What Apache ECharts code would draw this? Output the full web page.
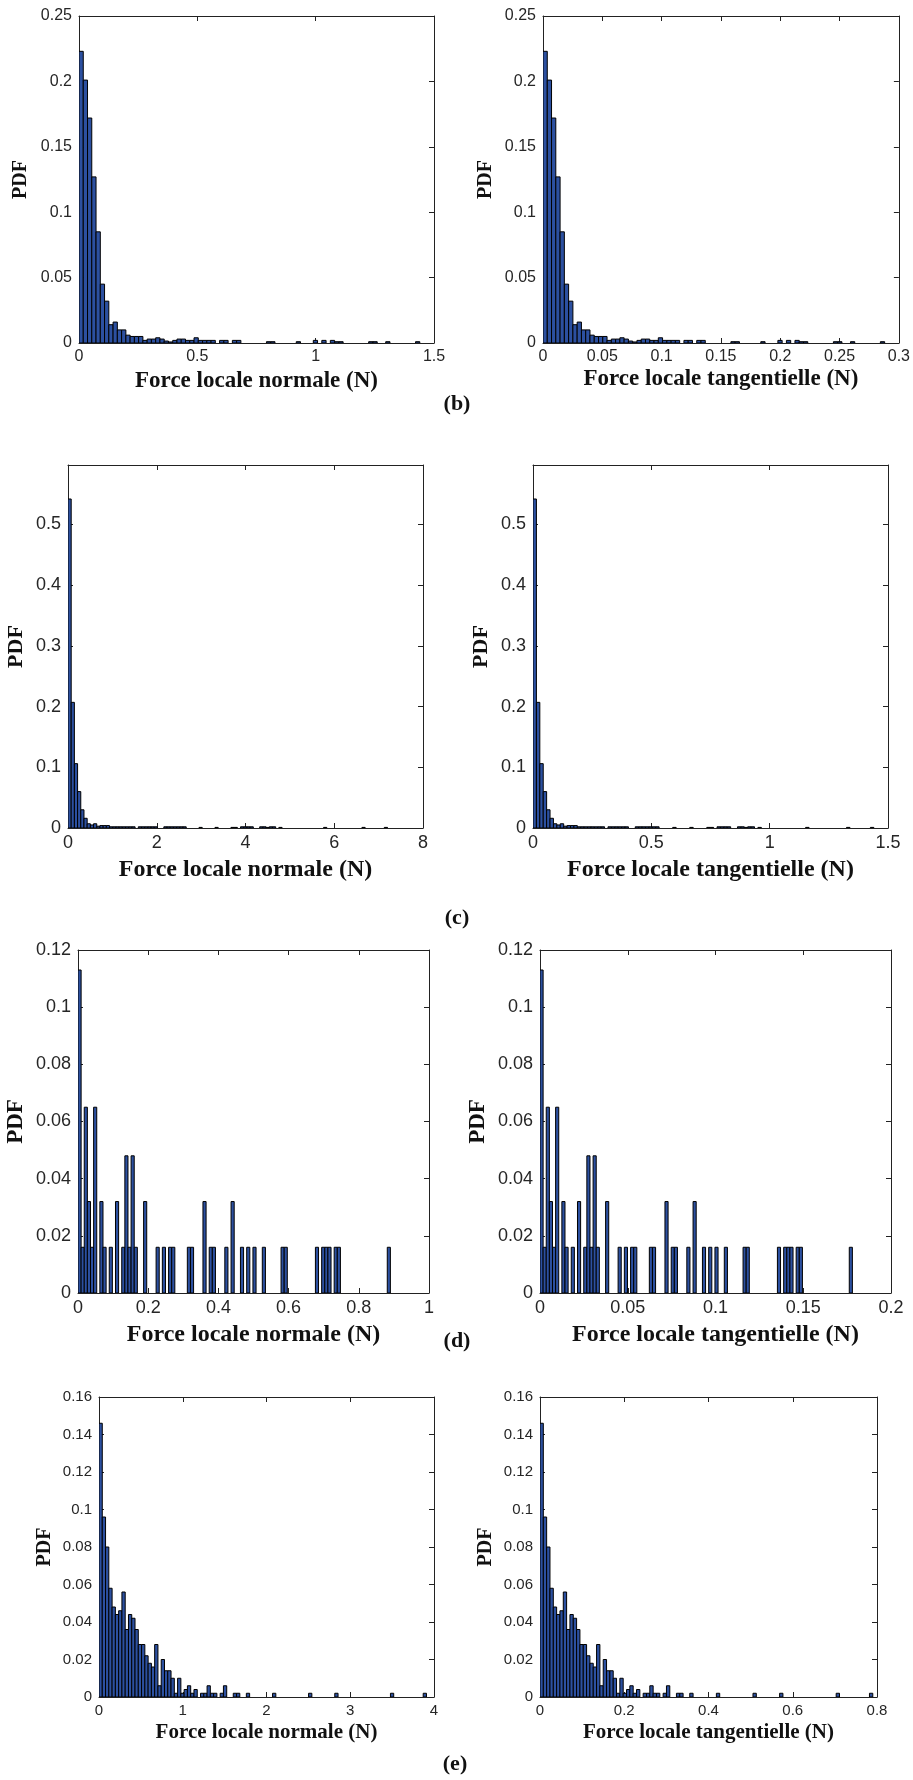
<!DOCTYPE html>
<html><head><meta charset="utf-8">
<script src="https://cdn.jsdelivr.net/npm/echarts@6/dist/echarts.min.js"></script>
<style>html,body{margin:0;padding:0;background:#fff}#c{width:913px;height:1780px}</style>
</head><body><div id="c"></div>
<script>
// ---------- DATA (PDF per histogram bin, bin index k covers [k*w,(k+1)*w]) ----------
// (b)
const binNormB = 0.018;
const pdfNormB = [
 0.223,0.201,0.172,0.127,0.085,0.045,0.032,0.014,0.016,0.010,
 0.010,0.006,0.005,0.005,0.005,0.002,0.003,0.003,0.004,0.003,
 0.0015,0.0008,0.002,0.003,0.003,0.002,0.002,0.004,0.002,0.002,
 0.002,0.002,0,0.002,0.002,0,0.002,0.002,0,0,
 0,0,0,0,0.001,0.001,0,0,0,0,
 0,0.001,0,0,0,0.002,0,0.002,0,0.002,
 0.001,0.001,0,0,0,0,0,0,0.001,0.001,
 0,0,0.001,0,0,0,0,0,0,0.001];
const binTangB = 0.0036;
const pdfTangB = [
 0.223,0.201,0.172,0.127,0.085,0.045,0.032,0.014,0.016,0.010,
 0.010,0.006,0.005,0.005,0.005,0.002,0.003,0.003,0.004,0.003,
 0.0015,0.0008,0.002,0.003,0.003,0.002,0.002,0.004,0.002,0.002,
 0.002,0.002,0,0.002,0.002,0,0.002,0.002,0,0,
 0,0,0,0,0.001,0.001,0,0,0,0,
 0,0.001,0,0,0,0.002,0,0.002,0,0.002,
 0.001,0.001,0,0,0,0,0,0,0.001,0.001,
 0,0,0.001,0,0,0,0,0,0,0.001];
const xTicksNormB = [0,0.5,1,1.5];
const xTicksTangB = [0,0.05,0.1,0.15,0.2,0.25,0.3];
const yTicksB = [0,0.05,0.1,0.15,0.2,0.25];
const yMaxB = 0.25;

// (c)
const binNormC = 0.072;
const pdfNormC = [
 0.542,0.207,0.106,0.060,0.030,0.016,0.007,0.005,0.007,0.003,
 0.004,0.004,0.004,0.002,0.002,0.002,0.002,0.002,0.002,0.002,
 0.002,0,0.002,0.002,0.002,0.002,0.002,0.002,0,0,
 0.002,0.002,0.002,0.002,0.002,0.002,0.002,0,0,0,
 0,0.001,0,0,0,0,0.001,0,0,0,
 0,0.001,0.001,0,0.002,0.002,0.002,0.002,0,0,
 0.002,0.002,0.001,0.002,0.002,0,0.001,0,0,0,
 0,0,0,0,0,0,0,0,0,0,
 0.001,0,0,0,0,0,0,0,0,0,
 0,0,0.001,0,0,0,0,0,0,0.001];
const binTangC = 0.0144;
const pdfTangC = [
 0.542,0.207,0.106,0.060,0.030,0.016,0.007,0.005,0.007,0.003,
 0.004,0.004,0.004,0.002,0.002,0.002,0.002,0.002,0.002,0.002,
 0.002,0,0.002,0.002,0.002,0.002,0.002,0.002,0,0,
 0.002,0.002,0.002,0.002,0.002,0.002,0.002,0,0,0,
 0,0.001,0,0,0,0,0.001,0,0,0,
 0,0.001,0.001,0,0.002,0.002,0.002,0.002,0,0,
 0.002,0.002,0.001,0.002,0.002,0,0.001,0,0,0,
 0,0,0,0,0,0,0,0,0,0,
 0.001,0,0,0,0,0,0,0,0,0,
 0,0,0.001,0,0,0,0,0,0,0.001];
const xTicksNormC = [0,2,4,6,8];
const xTicksTangC = [0,0.5,1,1.5];
const yTicksC = [0,0.1,0.2,0.3,0.4,0.5];
const yMaxC = 0.598;

// (d)
const binNormD = 0.0089;
const pdfNormD = [
 0.113,0.016,0.065,0.032,0.016,0.065,0,0.032,0.016,0,
 0.016,0,0.032,0,0.016,0.048,0.016,0.048,0.016,0,
 0,0.032,0,0,0,0.016,0,0.016,0,0.016,
 0.016,0,0,0,0,0.016,0.016,0,0,0,
 0.032,0,0.016,0.016,0,0,0,0.016,0,0.032,
 0,0,0.016,0,0.016,0,0.016,0,0,0.016,
 0,0,0,0,0,0.016,0.016,0,0,0,
 0,0,0,0,0,0,0.016,0,0.016,0.016,
 0.016,0,0.016,0.016,0,0,0,0,0,0,
 0,0,0,0,0,0,0,0,0,0.016];
const binTangD = 0.00178;
const pdfTangD = [
 0.113,0.016,0.065,0.032,0.016,0.065,0,0.032,0.016,0,
 0.016,0,0.032,0,0.016,0.048,0.016,0.048,0.016,0,
 0,0.032,0,0,0,0.016,0,0.016,0,0.016,
 0.016,0,0,0,0,0.016,0.016,0,0,0,
 0.032,0,0.016,0.016,0,0,0,0.016,0,0.032,
 0,0,0.016,0,0.016,0,0.016,0,0,0.016,
 0,0,0,0,0,0.016,0.016,0,0,0,
 0,0,0,0,0,0,0.016,0,0.016,0.016,
 0.016,0,0.016,0.016,0,0,0,0,0,0,
 0,0,0,0,0,0,0,0,0,0.016];
const xTicksNormD = [0,0.2,0.4,0.6,0.8,1];
const xTicksTangD = [0,0.05,0.1,0.15,0.2];
const yTicksD = [0,0.02,0.04,0.06,0.08,0.1,0.12];
const yMaxD = 0.12;

// (e)
const binNormE = 0.0391;
const pdfNormE = [
 0.146,0.096,0.080,0.058,0.048,0.044,0.046,0.056,0.036,0.044,
 0.042,0.036,0.028,0.028,0.022,0.018,0.016,0.028,0.006,0.020,
 0.014,0.014,0.010,0.002,0.010,0.002,0.004,0.006,0.002,0.004,
 0,0.002,0.002,0.006,0.002,0.002,0,0.002,0.006,0,
 0,0.002,0.002,0,0,0.002,0,0,0,0,
 0,0,0,0.002,0,0,0,0,0,0,
 0,0,0,0,0.002,0,0,0,0,0,
 0,0,0.002,0,0,0,0,0,0,0,
 0,0,0,0,0,0,0,0,0,0.002,
 0,0,0,0,0,0,0,0,0,0.002];
const binTangE = 0.0079;
const pdfTangE = [
 0.146,0.096,0.080,0.058,0.048,0.044,0.046,0.056,0.036,0.044,
 0.042,0.036,0.028,0.028,0.022,0.018,0.016,0.028,0.006,0.020,
 0.014,0.014,0.010,0.002,0.010,0.002,0.004,0.006,0.002,0.004,
 0,0.002,0.002,0.006,0.002,0.002,0,0.002,0.006,0,
 0,0.002,0.002,0,0,0.002,0,0,0,0,
 0,0,0,0.002,0,0,0,0,0,0,
 0,0,0,0,0.002,0,0,0,0,0,
 0,0,0.002,0,0,0,0,0,0,0,
 0,0,0,0,0,0,0,0,0,0.002,
 0,0,0,0,0,0,0,0,0,0.002];
const xTicksNormE = [0,1,2,3,4];
const xTicksTangE = [0,0.2,0.4,0.6,0.8];
const yTicksE = [0,0.02,0.04,0.06,0.08,0.1,0.12,0.14,0.16];
const yMaxE = 0.16;

const xNameNormal = 'Force locale normale (N)';
const xNameTang = 'Force locale tangentielle (N)';
const yName = 'PDF';
const panelLabels = ['(b)','(c)','(d)','(e)'];

// ---------- LAYOUT ----------
const panels = [
 {pdf:pdfNormB, bin:binNormB, xt:xTicksNormB, yt:yTicksB, ymax:yMaxB, xName:xNameNormal,
  g:{left:79,top:16,width:355,height:327}, tick:16, nameSize:23, pdfSize:20, yGap:48, xGap:27},
 {pdf:pdfTangB, bin:binTangB, xt:xTicksTangB, yt:yTicksB, ymax:yMaxB, xName:xNameTang,
  g:{left:543,top:16,width:356,height:327}, tick:16, nameSize:23, pdfSize:20, yGap:47, xGap:25},
 {pdf:pdfNormC, bin:binNormC, xt:xTicksNormC, yt:yTicksC, ymax:yMaxC, xName:xNameNormal,
  g:{left:68,top:465,width:355,height:363}, tick:18, nameSize:24, pdfSize:22, yGap:41, xGap:30},
 {pdf:pdfTangC, bin:binTangC, xt:xTicksTangC, yt:yTicksC, ymax:yMaxC, xName:xNameTang,
  g:{left:533,top:465,width:355,height:363}, tick:18, nameSize:24, pdfSize:22, yGap:41, xGap:30},
 {pdf:pdfNormD, bin:binNormD, xt:xTicksNormD, yt:yTicksD, ymax:yMaxD, xName:xNameNormal,
  g:{left:78,top:950,width:351,height:343}, tick:18, nameSize:24, pdfSize:23, yGap:50, xGap:30},
 {pdf:pdfTangD, bin:binTangD, xt:xTicksTangD, yt:yTicksD, ymax:yMaxD, xName:xNameTang,
  g:{left:540,top:950,width:351,height:343}, tick:18, nameSize:24, pdfSize:23, yGap:50, xGap:30},
 {pdf:pdfNormE, bin:binNormE, xt:xTicksNormE, yt:yTicksE, ymax:yMaxE, xName:xNameNormal,
  g:{left:99,top:1397,width:335,height:300}, tick:15, nameSize:21, pdfSize:20, yGap:44, xGap:25},
 {pdf:pdfTangE, bin:binTangE, xt:xTicksTangE, yt:yTicksE, ymax:yMaxE, xName:xNameTang,
  g:{left:540,top:1397,width:337,height:300}, tick:15, nameSize:21, pdfSize:20, yGap:44, xGap:25}
];
const labelPos = [[457,404],[457,918],[457,1341],[455,1764]];

const SANS = '"Liberation Sans", Arial, sans-serif';
const SERIF = '"Liberation Serif", "Times New Roman", serif';
const BAR_FILL = '#2c50a0';
const LINE = '#222';

function renderBar(params, api) {
  const p0 = api.coord([api.value(0), 0]);
  const p1 = api.coord([api.value(1), api.value(2)]);
  return {
    type: 'rect',
    shape: {x: p0[0], y: p1[1], width: p1[0] - p0[0], height: p0[1] - p1[1]},
    style: {fill: BAR_FILL, stroke: '#000', lineWidth: 1}
  };
}

const option = {backgroundColor:'#fff', animation:false, grid:[], xAxis:[], yAxis:[], series:[], graphic:[]};

panels.forEach((p, i) => {
  option.grid.push(Object.assign({containLabel:false}, p.g));
  const xmin = p.xt[0], xmax = p.xt[p.xt.length-1], xint = p.xt[1]-p.xt[0];
  const ymin = p.yt[0], ymax = p.ymax, yint = p.yt[1]-p.yt[0];
  const lineStyle = {color: LINE, width: 1};
  const tick = {show:true, inside:true, length:5, lineStyle:{color:LINE, width:1}};
  const lbl = {fontSize:p.tick, fontFamily:SANS, color:'#262626'};
  const nameStyle = {fontFamily:SERIF, fontWeight:'bold', color:'#111'};
  option.xAxis.push({type:'value', gridIndex:i, position:'bottom', min:xmin, max:xmax, interval:xint,
    axisLine:{show:true, onZero:false, lineStyle}, axisTick:tick, splitLine:{show:false},
    axisLabel:Object.assign({margin:6}, lbl),
    name:p.xName, nameLocation:'middle', nameGap:p.xGap,
    nameTextStyle:Object.assign({fontSize:p.nameSize}, nameStyle)});
  option.xAxis.push({type:'value', gridIndex:i, position:'top', min:xmin, max:xmax, interval:xint,
    axisLine:{show:true, onZero:false, lineStyle}, axisTick:tick, splitLine:{show:false},
    axisLabel:{show:false}});
  option.yAxis.push({type:'value', gridIndex:i, position:'left', min:ymin, max:ymax, interval:yint,
    axisLine:{show:true, onZero:false, lineStyle}, axisTick:tick, splitLine:{show:false},
    axisLabel:Object.assign({margin:7, showMaxLabel: ymax === p.yt[p.yt.length-1]}, lbl),
    name:yName, nameLocation:'middle', nameGap:p.yGap,
    nameTextStyle:Object.assign({fontSize:p.pdfSize}, nameStyle)});
  option.yAxis.push({type:'value', gridIndex:i, position:'right', min:ymin, max:ymax, interval:yint,
    axisLine:{show:true, onZero:false, lineStyle}, axisTick:tick, splitLine:{show:false},
    axisLabel:{show:false}});
  const data = [];
  p.pdf.forEach((v, k) => { if (v > 0) data.push([k*p.bin, (k+1)*p.bin, v]); });
  option.series.push({type:'custom', xAxisIndex:2*i, yAxisIndex:2*i, renderItem:renderBar,
    data:data, encode:{x:[0,1], y:2}, clip:true, silent:true});
});

panelLabels.forEach((t, i) => {
  option.graphic.push({type:'text', x:labelPos[i][0], y:labelPos[i][1],
    style:{text:t, font:'bold 22px ' + SERIF, textAlign:'center', textVerticalAlign:'middle', fill:'#111'}});
});

const chart = echarts.init(document.getElementById('c'), null, {renderer:'canvas'});
chart.setOption(option);
</script>
</body></html>
